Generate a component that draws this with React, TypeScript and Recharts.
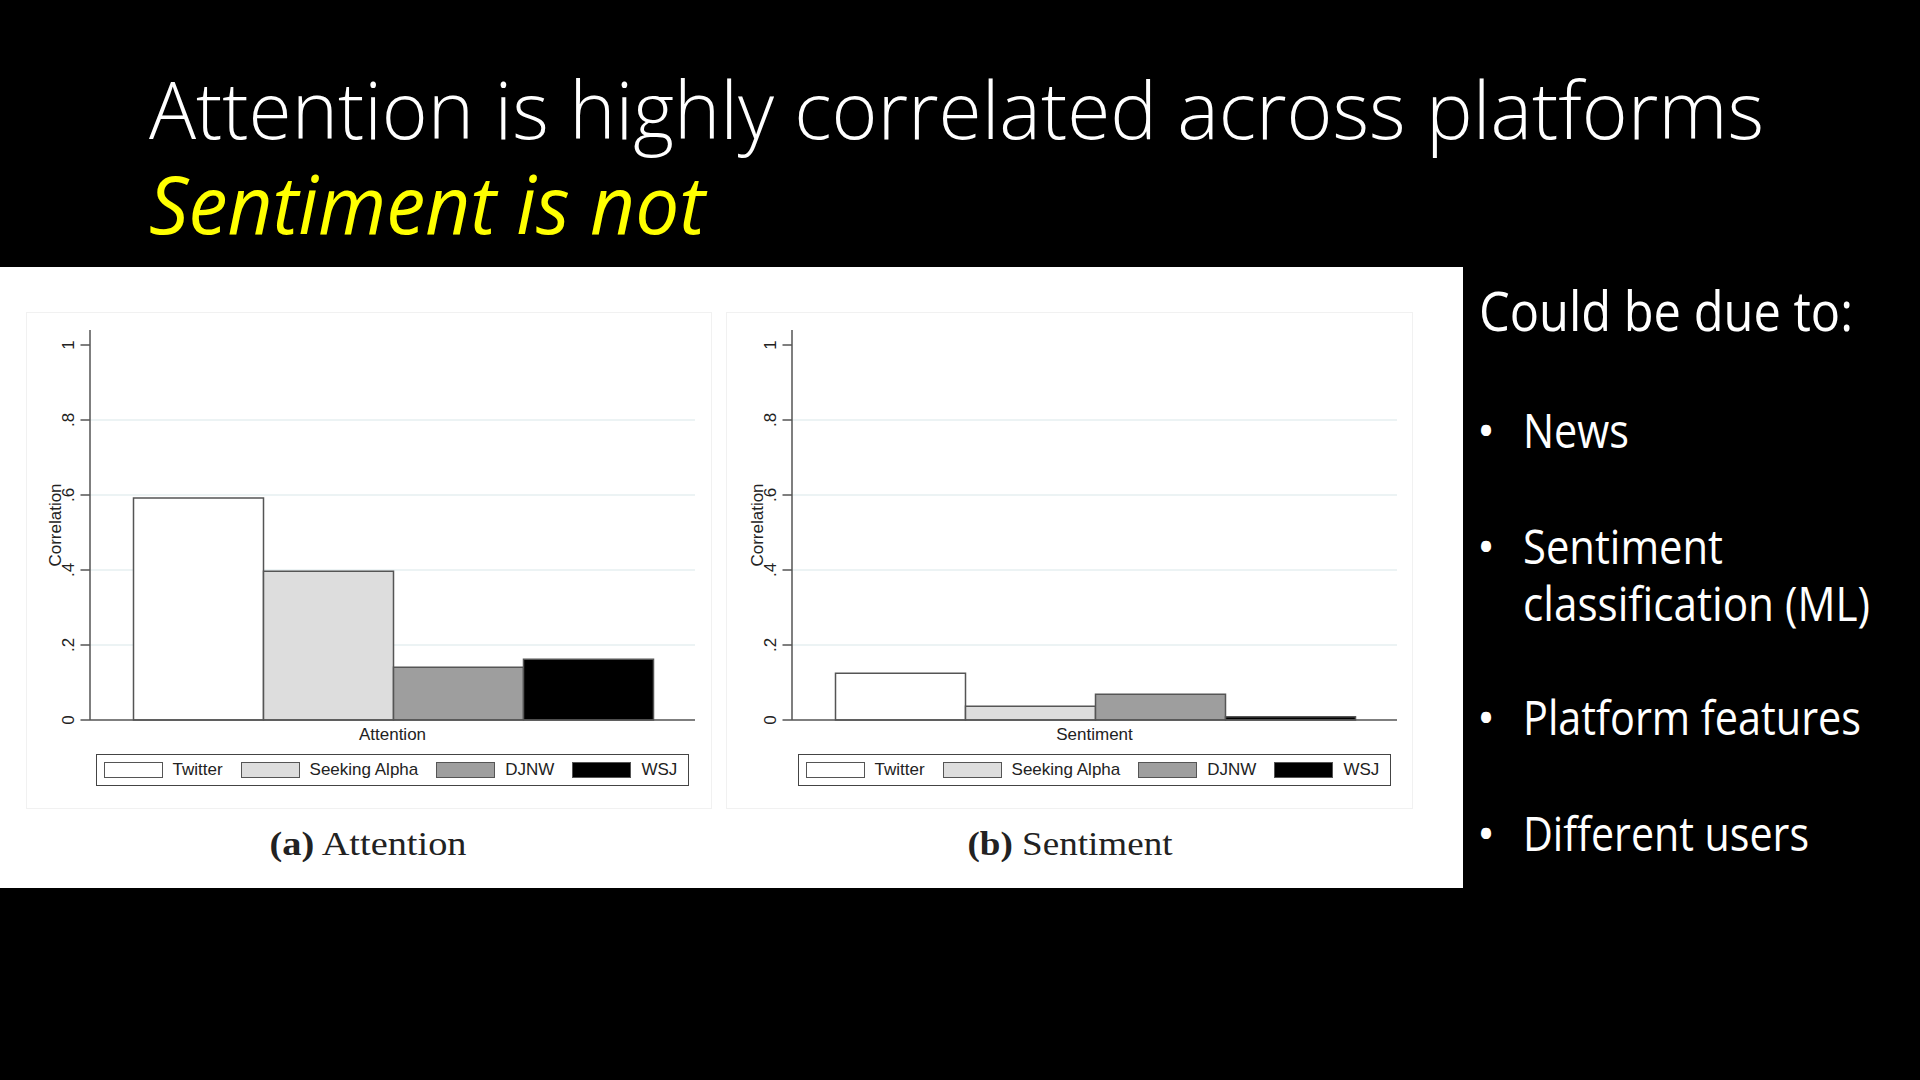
import React from "react";
import { BarChart, Bar, XAxis, YAxis, CartesianGrid, Legend } from "recharts";

// series, in legend order
const platforms = ["Twitter", "Seeking Alpha", "DJNW", "WSJ"];
const platformKeys = ["twitter", "seekingAlpha", "djnw", "wsj"];
const platformFills = ["#ffffff", "#dddddd", "#9e9e9e", "#000000"];

// correlation across platforms
const attentionValues = [0.592, 0.397, 0.141, 0.162];
const sentimentValues = [0.125, 0.037, 0.069, 0.009];

const yTicks = [0, 0.2, 0.4, 0.6, 0.8, 1];
const yTickLabels = ["0", ".2", ".4", ".6", ".8", "1"];
const gridValues = [0.2, 0.4, 0.6, 0.8];

const bullets = ["News", "Sentiment", "classification (ML)", "Platform features", "Different users"];

const chartFont = "'Liberation Sans', Arial, sans-serif";
const slideFont = "'Open Sans', 'Noto Sans', sans-serif";
const axisColor = "#555555";

const CHART_W = 684;
const CHART_H = 496;

function buildRow(name: string, values: number[]) {
  const row: Record<string, string | number> = { name };
  platformKeys.forEach((k, i) => {
    row[k] = values[i];
  });
  return [row];
}

function YTick({ x, y, payload }: any) {
  const idx = yTicks.findIndex((t) => Math.abs(t - payload.value) < 1e-6);
  const label = idx >= 0 ? yTickLabels[idx] : String(payload.value);
  return (
    <text
      transform={`translate(${x},${y}) rotate(-90)`}
      textAnchor="middle"
      fontSize={17}
      fontFamily={chartFont}
      fill="#222"
    >
      {label}
    </text>
  );
}

function YTitle(props: any) {
  const vb = props.viewBox ?? { x: 0, y: 18, width: 63, height: 390 };
  const x = vb.x + vb.width - 29.5;
  const y = vb.y + vb.height / 2;
  return (
    <text
      transform={`translate(${x},${y}) rotate(-90)`}
      textAnchor="middle"
      fontSize={17}
      fontFamily={chartFont}
      fill="#222"
    >
      Correlation
    </text>
  );
}

function LegendBox() {
  return (
    <div style={{ paddingTop: 4, height: 58, boxSizing: "border-box" }}>
      <div
        style={{
          display: "flex",
          alignItems: "center",
          gap: 18,
          height: 32,
          boxSizing: "border-box",
          border: "1.5px solid #444",
          paddingLeft: 7,
          fontFamily: chartFont,
          fontSize: 17,
          color: "#222",
          background: "#fff",
        }}
      >
        {platforms.map((p, i) => (
          <div key={p} style={{ display: "flex", alignItems: "center", gap: 10 }}>
            <div
              style={{
                width: 59,
                height: 16,
                background: platformFills[i],
                border: "1.5px solid #555",
                boxSizing: "border-box",
              }}
            />
            <span>{p}</span>
          </div>
        ))}
      </div>
    </div>
  );
}

function CorrelationPanel({ name, values, left }: { name: string; values: number[]; left: number }) {
  const data = buildRow(name, values);
  return (
    <div style={{ position: "absolute", left, top: 312, width: CHART_W, height: CHART_H }}>
      <BarChart
        width={CHART_W}
        height={CHART_H}
        data={data}
        margin={{ top: 18, right: 16, left: 0, bottom: 0 }}
        barCategoryGap={43.5}
        barGap={0}
      >
        <CartesianGrid
          vertical={false}
          horizontalValues={gridValues}
          stroke="#e6eff1"
          strokeWidth={1.5}
        />
        <XAxis
          dataKey="name"
          height={30}
          tickLine={false}
          axisLine={{ stroke: axisColor, strokeWidth: 1.5 }}
          tick={{ fontSize: 17, fill: "#222", fontFamily: chartFont }}
        />
        <YAxis
          width={63}
          domain={[0, 1.04]}
          ticks={yTicks}
          interval={0}
          tickSize={9.5}
          tickMargin={7}
          tickLine={{ stroke: axisColor, strokeWidth: 1.5 }}
          axisLine={{ stroke: axisColor, strokeWidth: 1.5 }}
          tick={<YTick />}
          label={<YTitle />}
        />
        <Legend
          verticalAlign="bottom"
          content={<LegendBox />}
          wrapperStyle={{ left: 69, width: 593, height: 58, bottom: 0 }}
        />
        {platformKeys.map((k, i) => (
          <Bar
            key={k}
            dataKey={k}
            name={platforms[i]}
            fill={platformFills[i]}
            stroke={axisColor}
            strokeWidth={1.5}
            isAnimationActive={false}
          />
        ))}
      </BarChart>
    </div>
  );
}

export default function App() {
  return (
    <div
      style={{
        position: "absolute",
        left: 0,
        top: 0,
        width: 1920,
        height: 1080,
        background: "#000",
        overflow: "hidden",
      }}
    >
      {/* white figure panel */}
      <div style={{ position: "absolute", left: 0, top: 267, width: 1463, height: 621, background: "#fff" }} />
      <div style={{ position: "absolute", left: 26, top: 312, width: 686, height: 497, border: "1px solid #f1f1f1", boxSizing: "border-box" }} />
      <div style={{ position: "absolute", left: 726, top: 312, width: 687, height: 497, border: "1px solid #f1f1f1", boxSizing: "border-box" }} />

      <CorrelationPanel name="Attention" values={attentionValues} left={26.5} />
      <CorrelationPanel name="Sentiment" values={sentimentValues} left={728.5} />

      <svg
        width={1920}
        height={1080}
        style={{ position: "absolute", left: 0, top: 0, pointerEvents: "none" }}
      >
        <text x={149} y={139} fill="#fff" fontFamily={slideFont} fontWeight={300} fontSize={80} textLength={1615} lengthAdjust="spacingAndGlyphs">
          Attention is highly correlated across platforms
        </text>
        <text x={149} y={234} fill="#ffff00" fontFamily={slideFont} fontStyle="italic" fontSize={80} textLength={556} lengthAdjust="spacingAndGlyphs">
          Sentiment is not
        </text>

        <text x={368} y={855} textAnchor="middle" fill="#222" fontFamily="'Liberation Serif', 'DejaVu Serif', serif" fontSize={33} textLength={197} lengthAdjust="spacingAndGlyphs">
          <tspan fontWeight="bold">(a)</tspan> Attention
        </text>
        <text x={1070} y={855} textAnchor="middle" fill="#222" fontFamily="'Liberation Serif', 'DejaVu Serif', serif" fontSize={33} textLength={205} lengthAdjust="spacingAndGlyphs">
          <tspan fontWeight="bold">(b)</tspan> Sentiment
        </text>

        <text x={1479} y={331} fill="#fff" fontFamily={slideFont} fontSize={55} textLength={374} lengthAdjust="spacingAndGlyphs">
          Could be due to:
        </text>
        {[
          { t: bullets[0], y: 448, w: 106, dot: true },
          { t: bullets[1], y: 564, w: 200, dot: true },
          { t: bullets[2], y: 621, w: 347, dot: false },
          { t: bullets[3], y: 735, w: 338, dot: true },
          { t: bullets[4], y: 851, w: 286, dot: true },
        ].map((b) => (
          <g key={b.t}>
            {b.dot && (
              <text x={1486} y={b.y} textAnchor="middle" fill="#fff" fontFamily={slideFont} fontSize={48}>
                •
              </text>
            )}
            <text x={1523} y={b.y} fill="#fff" fontFamily={slideFont} fontSize={48} textLength={b.w} lengthAdjust="spacingAndGlyphs">
              {b.t}
            </text>
          </g>
        ))}
      </svg>
    </div>
  );
}
